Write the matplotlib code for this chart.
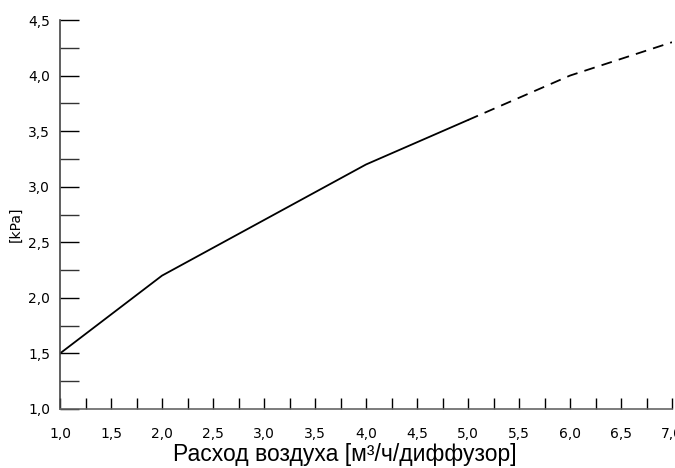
import matplotlib
matplotlib.use("Agg")
import matplotlib.pyplot as plt
import numpy as np

# data
x_solid = [1.0, 2.0, 4.0, 5.0]
y_solid = [1.5, 2.2, 3.2, 3.6]
x_dash = [5.0, 6.0, 7.0]
y_dash = [3.6, 4.0, 4.3]
x_ticks = [1.0, 1.5, 2.0, 2.5, 3.0, 3.5, 4.0, 4.5, 5.0, 5.5, 6.0, 6.5, 7.0]
x_ticklabels = ["1,0", "1,5", "2,0", "2,5", "3,0", "3,5", "4,0", "4,5", "5,0", "5,5", "6,0", "6,5", "7,0"]
y_ticks = [1.0, 1.5, 2.0, 2.5, 3.0, 3.5, 4.0, 4.5]
y_ticklabels = ["1,0", "1,5", "2,0", "2,5", "3,0", "3,5", "4,0", "4,5"]
x_minor = [1.25, 1.75, 2.25, 2.75, 3.25, 3.75, 4.25, 4.75, 5.25, 5.75, 6.25, 6.75]
y_minor = [1.25, 1.75, 2.25, 2.75, 3.25, 3.75, 4.25]

fig = plt.figure(figsize=(6.75, 4.68), dpi=100)
ax = fig.add_axes([60/675, 1-409/468, 612/675, 389/468])

ax.plot(x_solid, y_solid, color="black", lw=1.3, solid_joinstyle="miter")
ax.plot(x_dash, y_dash, color="black", lw=1.3, dashes=(6, 4))

ax.set_xlim(1.0, 7.0)
ax.set_ylim(1.0, 4.5)
for s in ["top", "right"]:
    ax.spines[s].set_visible(False)
ax.spines["left"].set_color("#444444")
ax.spines["bottom"].set_color("#666666")
ax.spines["left"].set_linewidth(1.2)
ax.spines["bottom"].set_linewidth(1.2)

ax.set_xticks(x_ticks)
ax.set_xticklabels(x_ticklabels)
ax.set_xticks(x_minor, minor=True)
ax.set_yticks(y_ticks)
ax.set_yticklabels(y_ticklabels)
ax.set_yticks(y_minor, minor=True)

ax.tick_params(axis="x", which="both", direction="in", length=8, width=1, color="black", pad=13, labelsize=10)
ax.tick_params(axis="y", which="both", direction="in", length=14, width=1, color="black", pad=7, labelsize=10)
ax.tick_params(axis="y", which="minor", color="#333333")

ax.set_xlabel("Расход воздуха [м³/ч/диффузор]", fontsize=16.5, family=["Liberation Sans", "DejaVu Sans"])
ax.xaxis.set_label_coords((345 - 60) / 612, -(461 - 409) / 389)
ax.xaxis.label.set_va("baseline")
ax.set_ylabel("[kPa]", fontsize=10)
ax.yaxis.set_label_coords((16 - 60) / 612, (409 - 224) / 389)
ax.yaxis.label.set_va("center")

fig.savefig("out.png", dpi=100)
